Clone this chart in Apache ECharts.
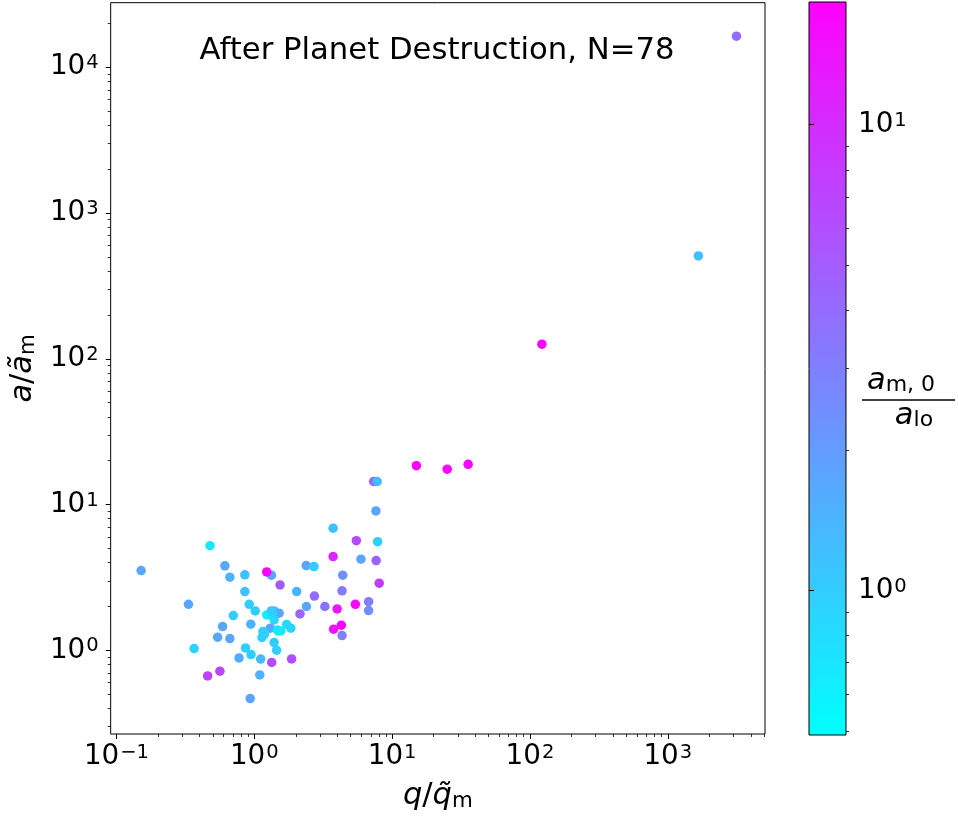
<!DOCTYPE html>
<html><head><meta charset="utf-8">
<script src="https://cdn.jsdelivr.net/npm/echarts@6/dist/echarts.min.js"></script>
<style>html,body{margin:0;padding:0;background:#fff}#main{width:958px;height:817px}</style>
</head><body><div id="main"></div>
<script>
// q / q~_m
const qValues = [3148, 1667, 122, 15.0, 25.1, 35.6, 7.34, 7.79, 7.63, 3.73, 5.50, 7.85, 0.477, 3.73, 5.94, 7.66,
  0.151, 0.612, 1.331, 1.231, 2.38, 2.71, 0.665, 0.854, 4.38, 1.538, 8.06, 0.854, 2.03, 4.33, 2.73,
  0.333, 0.919, 1.015, 2.39, 3.25, 3.99, 5.41, 6.75, 6.75, 0.704, 1.331, 1.392, 1.513, 1.231, 1.392,
  2.145, 0.589, 0.943, 1.303, 1.156, 1.471, 1.553, 1.717, 1.841, 3.76, 4.28, 4.33, 0.542, 0.665,
  1.137, 1.392, 0.366, 0.864, 0.947, 1.451, 0.775, 1.112, 1.338, 1.866, 0.563, 0.459, 1.096, 0.934,
  1.27, 1.49, 1.19, 1.35];
// a / a~_m
const aValues = [16330, 508, 126, 18.5, 17.5, 18.9, 14.4, 14.4, 9.05, 6.89, 5.66, 5.57, 5.23, 4.40, 4.22, 4.13,
  3.53, 3.80, 3.28, 3.45, 3.82, 3.76, 3.18, 3.30, 3.28, 2.81, 2.89, 2.53, 2.53, 2.56, 2.36,
  2.07, 2.07, 1.866, 2.00, 2.00, 1.926, 2.07, 2.16, 1.875, 1.733, 1.866, 1.866, 1.80, 1.752, 1.619,
  1.779, 1.456, 1.512, 1.42, 1.35, 1.382, 1.36, 1.508, 1.42, 1.398, 1.489, 1.264, 1.232, 1.205,
  1.228, 1.131, 1.029, 1.04, 0.936, 1.003, 0.888, 0.872, 0.827, 0.874, 0.720, 0.668, 0.679, 0.467,
  1.76, 1.36, 1.30, 1.83];
// a_m,0 / a_lo (colour)
const colorValues = [3.9, 1.2, 18, 18, 17, 17.5, 4.3, 1.3, 1.74, 1.2, 6.6, 0.95, 0.70, 10.5, 1.74, 4.6,
  1.74, 1.74, 1.74, 18, 1.74, 1.0, 1.45, 1.2, 2.3, 5.1, 8, 1.2, 1.45, 3.2, 4.0,
  1.74, 1.0, 1.0, 1.74, 3.6, 13.5, 18, 3.0, 2.5, 1.0, 1.74, 1.1, 1.74, 0.55, 0.84,
  4.3, 1.74, 1.45, 1.74, 1.0, 0.65, 0.70, 0.84, 0.9, 14, 18, 3.0, 1.74, 1.74,
  0.95, 1.0, 0.95, 0.95, 1.0, 0.95, 1.6, 1.3, 6.2, 6.2, 6.6, 7.4, 1.45, 1.74,
  0.7, 0.65, 0.95, 1.0];

const xTickValues = [0.1, 1, 10, 100, 1000];
const yTickValues = [1, 10, 100, 1000, 10000];
const cbTickValues = [1, 10];
const xRange = [0.0908, 5070];
const yRange = [0.267, 27700];
const cRange = [0.4897, 18.33];

function minorTicks(lo, hi) {
  const out = [];
  for (let e = -3; e <= 5; e++) {
    for (let k = 2; k <= 9; k++) {
      const v = k * Math.pow(10, e);
      if (v > lo && v < hi) out.push(v);
    }
  }
  return out;
}

const FONT = 'DejaVu Sans';
const labelRich = {
  b: { fontSize: 27.8, fontFamily: FONT, color: '#000' },
  s: { fontSize: 19.5, fontFamily: FONT, color: '#000', verticalAlign: 'top', padding: [0, 0, 0, 1] }
};
function powLabel(v) {
  const e = Math.round(Math.log10(v));
  return '{b|10}{s|' + (e < 0 ? '\u2212' + (-e) : e) + '}';
}

const data = qValues.map((q, i) => [q, aValues[i], colorValues[i], Math.log10(colorValues[i])]);

const chart = echarts.init(document.getElementById('main'), null, { renderer: 'canvas' });
const majorTick = { show: true, length: 5, lineStyle: { color: '#000', width: 1 } };
const minorTick = { show: true, length: 3, lineStyle: { color: '#000', width: 0.8 } };
const nameRich = {
  i: { fontSize: 30.5, fontFamily: FONT, fontStyle: 'italic', color: '#000' },
  r: { fontSize: 30.5, fontFamily: FONT, color: '#000' },
  s: { fontSize: 21.4, fontFamily: FONT, color: '#000', verticalAlign: 'bottom' }
};

chart.setOption({
  animation: false,
  backgroundColor: '#fff',
  title: {
    text: 'After Planet Destruction, N=78',
    left: 432, top: 31, textAlign: 'center',
    textStyle: { fontSize: 30.7, fontWeight: 'normal', fontFamily: FONT, color: '#000' }
  },
  grid: [
    { left: 107.5, top: 2.7, width: 657.5, height: 731.3, show: true, borderColor: '#000', borderWidth: 1, backgroundColor: 'transparent' },
    { left: 809, top: 2, width: 37, height: 733, show: true, borderColor: '#000', borderWidth: 1,
      backgroundColor: { type: 'linear', x: 0, y: 0, x2: 0, y2: 1,
        colorStops: [{ offset: 0, color: '#ff00ff' }, { offset: 1, color: '#00ffff' }] } }
  ],
  xAxis: [
    { type: 'log', gridIndex: 0, min: xRange[0], max: xRange[1], position: 'bottom',
      axisLine: { show: false }, splitLine: { show: false },
      axisTick: Object.assign({ customValues: xTickValues }, majorTick),
      axisLabel: { customValues: xTickValues, formatter: powLabel, rich: labelRich, margin: 9 },
      name: '{i|q}{r|/}{i|q\u0303}{s|m}', nameLocation: 'middle', nameGap: 47,
      nameTextStyle: { rich: nameRich } },
    { type: 'log', gridIndex: 0, min: xRange[0], max: xRange[1], position: 'bottom',
      axisLine: { show: false }, splitLine: { show: false }, axisLabel: { show: false },
      axisTick: Object.assign({ customValues: minorTicks(xRange[0], xRange[1]) }, minorTick) },
    { type: 'value', gridIndex: 1, show: false, min: 0, max: 1 }
  ],
  yAxis: [
    { type: 'log', gridIndex: 0, min: yRange[0], max: yRange[1], position: 'left',
      axisLine: { show: false }, splitLine: { show: false },
      axisTick: Object.assign({ customValues: yTickValues }, majorTick),
      axisLabel: { customValues: yTickValues, formatter: powLabel, rich: labelRich, margin: 12 },
      name: '{i|a}{r|/}{i|a\u0303}{s|m}', nameLocation: 'middle', nameGap: 70, nameRotate: 90,
      nameTextStyle: { rich: nameRich } },
    { type: 'log', gridIndex: 0, min: yRange[0], max: yRange[1], position: 'left',
      axisLine: { show: false }, splitLine: { show: false }, axisLabel: { show: false },
      axisTick: Object.assign({ customValues: minorTicks(yRange[0], yRange[1]) }, minorTick) },
    { type: 'log', gridIndex: 1, min: cRange[0], max: cRange[1], position: 'right',
      axisLine: { show: false }, splitLine: { show: false },
      axisTick: Object.assign({ customValues: cbTickValues }, majorTick),
      axisLabel: { customValues: cbTickValues, formatter: powLabel, rich: labelRich, margin: 12 } },
    { type: 'log', gridIndex: 1, min: cRange[0], max: cRange[1], position: 'right',
      axisLine: { show: false }, splitLine: { show: false }, axisLabel: { show: false },
      axisTick: Object.assign({ customValues: minorTicks(cRange[0], cRange[1]) }, minorTick) }
  ],
  visualMap: {
    show: false, type: 'continuous', seriesIndex: 0, dimension: 3,
    min: Math.log10(cRange[0]), max: Math.log10(cRange[1]),
    inRange: { color: ['#00ffff', '#ff00ff'] }
  },
  series: [{
    type: 'scatter', xAxisIndex: 0, yAxisIndex: 0, symbol: 'circle', symbolSize: 9.5,
    data: data, itemStyle: { opacity: 1 }
  }],
  graphic: [
    { type: 'text', x: 901, y: 381, style: { text: '{i|a}{s|m, 0}', align: 'center', verticalAlign: 'middle',
      rich: { i: { fontSize: 30.5, fontFamily: FONT, fontStyle: 'italic', fill: '#000' },
              s: { fontSize: 22, fontFamily: FONT, fill: '#000', verticalAlign: 'bottom' } } } },
    { type: 'line', shape: { x1: 862, y1: 400, x2: 955, y2: 400 }, style: { stroke: '#000', lineWidth: 1.5 } },
    { type: 'text', x: 914, y: 416, style: { text: '{i|a}{s|lo}', align: 'center', verticalAlign: 'middle',
      rich: { i: { fontSize: 30.5, fontFamily: FONT, fontStyle: 'italic', fill: '#000' },
              s: { fontSize: 22, fontFamily: FONT, fill: '#000', verticalAlign: 'bottom' } } } }
  ]
});
</script></body></html>
